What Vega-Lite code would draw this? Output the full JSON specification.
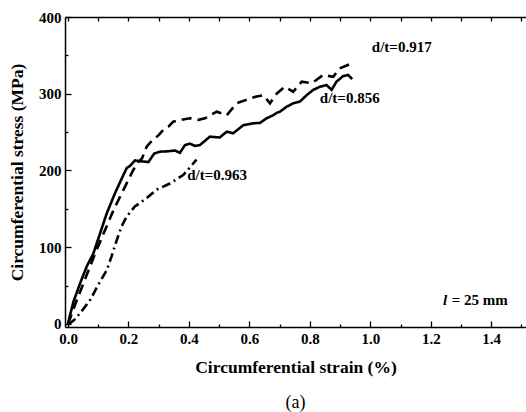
{
  "$schema": "https://vega.github.io/schema/vega-lite/v6.json",
  "width": 461,
  "height": 310,
  "autosize": {"type": "none"},
  "padding": {"left": 65, "top": 17, "right": 0, "bottom": 95},
  "background": "white",
  "config": {
    "view": {"stroke": null},
    "font": "Liberation Serif",
    "axis": {"domainColor": "black", "tickColor": "black", "domainWidth": 1.5, "tickWidth": 1.3, "grid": false, "labelFont": "Liberation Serif", "labelFontWeight": "bold", "labelFontSize": 15, "labelColor": "black", "titleFont": "Liberation Serif", "titleFontWeight": "bold", "titleFontSize": 17.5, "titleColor": "black"}
  },
  "title": {"text": "(a)", "orient": "bottom", "font": "Liberation Serif", "fontWeight": "normal", "fontSize": 18, "color": "black", "offset": 18},
  "datasets": {
    "curves": [
      {"s": "0.856", "i": 0, "x": 0, "y": 0},
      {"s": "0.856", "i": 1, "x": 0.005, "y": 9},
      {"s": "0.856", "i": 2, "x": 0.018, "y": 29},
      {"s": "0.856", "i": 3, "x": 0.04, "y": 53},
      {"s": "0.856", "i": 4, "x": 0.062, "y": 75},
      {"s": "0.856", "i": 5, "x": 0.084, "y": 92},
      {"s": "0.856", "i": 6, "x": 0.106, "y": 118},
      {"s": "0.856", "i": 7, "x": 0.128, "y": 144},
      {"s": "0.856", "i": 8, "x": 0.155, "y": 170},
      {"s": "0.856", "i": 9, "x": 0.183, "y": 194},
      {"s": "0.856", "i": 10, "x": 0.194, "y": 203},
      {"s": "0.856", "i": 11, "x": 0.205, "y": 206},
      {"s": "0.856", "i": 12, "x": 0.221, "y": 213},
      {"s": "0.856", "i": 13, "x": 0.24, "y": 212},
      {"s": "0.856", "i": 14, "x": 0.266, "y": 211},
      {"s": "0.856", "i": 15, "x": 0.285, "y": 222},
      {"s": "0.856", "i": 16, "x": 0.304, "y": 224.5},
      {"s": "0.856", "i": 17, "x": 0.33, "y": 225},
      {"s": "0.856", "i": 18, "x": 0.354, "y": 226},
      {"s": "0.856", "i": 19, "x": 0.37, "y": 223},
      {"s": "0.856", "i": 20, "x": 0.387, "y": 233},
      {"s": "0.856", "i": 21, "x": 0.403, "y": 235},
      {"s": "0.856", "i": 22, "x": 0.42, "y": 232},
      {"s": "0.856", "i": 23, "x": 0.436, "y": 233},
      {"s": "0.856", "i": 24, "x": 0.469, "y": 244},
      {"s": "0.856", "i": 25, "x": 0.502, "y": 243},
      {"s": "0.856", "i": 26, "x": 0.525, "y": 250.6},
      {"s": "0.856", "i": 27, "x": 0.546, "y": 248.4},
      {"s": "0.856", "i": 28, "x": 0.58, "y": 259},
      {"s": "0.856", "i": 29, "x": 0.613, "y": 261.5},
      {"s": "0.856", "i": 30, "x": 0.635, "y": 262},
      {"s": "0.856", "i": 31, "x": 0.657, "y": 268},
      {"s": "0.856", "i": 32, "x": 0.679, "y": 272},
      {"s": "0.856", "i": 33, "x": 0.69, "y": 275},
      {"s": "0.856", "i": 34, "x": 0.701, "y": 276.6},
      {"s": "0.856", "i": 35, "x": 0.723, "y": 283},
      {"s": "0.856", "i": 36, "x": 0.745, "y": 287.6},
      {"s": "0.856", "i": 37, "x": 0.767, "y": 289.7},
      {"s": "0.856", "i": 38, "x": 0.789, "y": 298},
      {"s": "0.856", "i": 39, "x": 0.811, "y": 305},
      {"s": "0.856", "i": 40, "x": 0.833, "y": 309},
      {"s": "0.856", "i": 41, "x": 0.855, "y": 311.4},
      {"s": "0.856", "i": 42, "x": 0.872, "y": 305},
      {"s": "0.856", "i": 43, "x": 0.888, "y": 315.7},
      {"s": "0.856", "i": 44, "x": 0.91, "y": 323},
      {"s": "0.856", "i": 45, "x": 0.927, "y": 324.4},
      {"s": "0.856", "i": 46, "x": 0.94, "y": 319},
      {"s": "0.917", "i": 0, "x": 0, "y": 0},
      {"s": "0.917", "i": 1, "x": 0.03, "y": 32},
      {"s": "0.917", "i": 2, "x": 0.06, "y": 62},
      {"s": "0.917", "i": 3, "x": 0.09, "y": 92},
      {"s": "0.917", "i": 4, "x": 0.12, "y": 120},
      {"s": "0.917", "i": 5, "x": 0.15, "y": 148},
      {"s": "0.917", "i": 6, "x": 0.18, "y": 172},
      {"s": "0.917", "i": 7, "x": 0.2, "y": 188},
      {"s": "0.917", "i": 8, "x": 0.215, "y": 200},
      {"s": "0.917", "i": 9, "x": 0.23, "y": 210},
      {"s": "0.917", "i": 10, "x": 0.245, "y": 216},
      {"s": "0.917", "i": 11, "x": 0.26, "y": 231},
      {"s": "0.917", "i": 12, "x": 0.28, "y": 240},
      {"s": "0.917", "i": 13, "x": 0.3, "y": 246},
      {"s": "0.917", "i": 14, "x": 0.315, "y": 253},
      {"s": "0.917", "i": 15, "x": 0.332, "y": 257},
      {"s": "0.917", "i": 16, "x": 0.348, "y": 263.6},
      {"s": "0.917", "i": 17, "x": 0.376, "y": 266},
      {"s": "0.917", "i": 18, "x": 0.403, "y": 268},
      {"s": "0.917", "i": 19, "x": 0.431, "y": 266},
      {"s": "0.917", "i": 20, "x": 0.453, "y": 268},
      {"s": "0.917", "i": 21, "x": 0.492, "y": 276.6},
      {"s": "0.917", "i": 22, "x": 0.525, "y": 272},
      {"s": "0.917", "i": 23, "x": 0.558, "y": 287.6},
      {"s": "0.917", "i": 24, "x": 0.59, "y": 292},
      {"s": "0.917", "i": 25, "x": 0.62, "y": 296},
      {"s": "0.917", "i": 26, "x": 0.646, "y": 298},
      {"s": "0.917", "i": 27, "x": 0.668, "y": 287.6},
      {"s": "0.917", "i": 28, "x": 0.69, "y": 300},
      {"s": "0.917", "i": 29, "x": 0.717, "y": 309},
      {"s": "0.917", "i": 30, "x": 0.745, "y": 302.6},
      {"s": "0.917", "i": 31, "x": 0.773, "y": 315.7},
      {"s": "0.917", "i": 32, "x": 0.806, "y": 313.6},
      {"s": "0.917", "i": 33, "x": 0.844, "y": 324.4},
      {"s": "0.917", "i": 34, "x": 0.877, "y": 322},
      {"s": "0.917", "i": 35, "x": 0.899, "y": 333},
      {"s": "0.917", "i": 36, "x": 0.935, "y": 339},
      {"s": "0.963", "i": 0, "x": 0, "y": 0},
      {"s": "0.963", "i": 1, "x": 0.007, "y": 1},
      {"s": "0.963", "i": 2, "x": 0.02, "y": 5},
      {"s": "0.963", "i": 3, "x": 0.04, "y": 14},
      {"s": "0.963", "i": 4, "x": 0.073, "y": 31},
      {"s": "0.963", "i": 5, "x": 0.1, "y": 51},
      {"s": "0.963", "i": 6, "x": 0.128, "y": 70},
      {"s": "0.963", "i": 7, "x": 0.144, "y": 88},
      {"s": "0.963", "i": 8, "x": 0.161, "y": 109},
      {"s": "0.963", "i": 9, "x": 0.177, "y": 127},
      {"s": "0.963", "i": 10, "x": 0.194, "y": 140},
      {"s": "0.963", "i": 11, "x": 0.221, "y": 153},
      {"s": "0.963", "i": 12, "x": 0.26, "y": 164},
      {"s": "0.963", "i": 13, "x": 0.293, "y": 175},
      {"s": "0.963", "i": 14, "x": 0.337, "y": 183},
      {"s": "0.963", "i": 15, "x": 0.381, "y": 194},
      {"s": "0.963", "i": 16, "x": 0.425, "y": 214}
    ],
    "labels": [
      {"label": "d/t=0.917", "x": 1.104, "y": 361},
      {"label": "d/t=0.856", "x": 0.932, "y": 294},
      {"label": "d/t=0.963", "x": 0.493, "y": 194}
    ],
    "lsym": [{"label": "l", "x": 1.254, "y": 31}],
    "leq": [{"label": "= 25 mm", "x": 1.455, "y": 31}]
  },
  "resolve": {"axis": {"x": "independent", "y": "independent"}},
  "layer": [
    {
      "data": {"name": "curves"},
      "mark": {"type": "line", "strokeWidth": 2.6, "color": "black", "clip": true},
      "encoding": {
        "x": {"field": "x", "type": "quantitative", "scale": {"domain": [-0.01, 1.515], "nice": false, "zero": false},
          "axis": {"orient": "bottom", "title": "Circumferential strain (%)", "values": [0, 0.2, 0.4, 0.6, 0.8, 1.0, 1.2, 1.4], "format": ".1f", "tickSize": -6, "labelPadding": 10, "titlePadding": 12}},
        "y": {"field": "y", "type": "quantitative", "scale": {"domain": [-4, 400], "nice": false, "zero": false},
          "axis": {"orient": "left", "title": "Circumferential stress (MPa)", "values": [0, 100, 200, 300, 400], "tickSize": -6, "labelPadding": 10, "titlePadding": 12}},
        "detail": {"field": "s"},
        "order": {"field": "i"},
        "strokeDash": {"field": "s", "type": "nominal", "legend": null,
          "scale": {"domain": ["0.856", "0.917", "0.963"], "range": [[1, 0], [10, 6], [9, 4, 2, 4]]}}
      }
    },
    {
      "data": {"name": "labels"},
      "mark": {"type": "text", "font": "Liberation Serif", "fontWeight": "bold", "fontSize": 15, "color": "black"},
      "encoding": {
        "x": {"field": "x", "type": "quantitative", "axis": {"orient": "bottom", "values": [0.1, 0.3, 0.5, 0.7, 0.9, 1.1, 1.3, 1.5], "labels": false, "domain": false, "title": null, "tickSize": -3}},
        "y": {"field": "y", "type": "quantitative", "axis": {"orient": "left", "values": [50, 150, 250, 350], "labels": false, "domain": false, "title": null, "tickSize": -3}},
        "text": {"field": "label"}
      }
    },
    {
      "data": {"name": "lsym"},
      "mark": {"type": "text", "font": "Liberation Serif", "fontWeight": "bold", "fontStyle": "italic", "fontSize": 15, "color": "black", "align": "right"},
      "encoding": {
        "x": {"field": "x", "type": "quantitative", "axis": {"orient": "top", "values": [0, 0.1, 0.2, 0.3, 0.4, 0.5, 0.6, 0.7, 0.8, 0.9, 1.0, 1.1, 1.2, 1.3, 1.4, 1.5], "labels": false, "title": null, "tickSize": -4}},
        "y": {"field": "y", "type": "quantitative", "axis": null},
        "text": {"field": "label"}
      }
    },
    {
      "data": {"name": "leq"},
      "mark": {"type": "text", "font": "Liberation Serif", "fontWeight": "bold", "fontSize": 15, "color": "black", "align": "right"},
      "encoding": {
        "x": {"field": "x", "type": "quantitative", "axis": null},
        "y": {"field": "y", "type": "quantitative", "axis": null},
        "text": {"field": "label"}
      }
    }
  ]
}
